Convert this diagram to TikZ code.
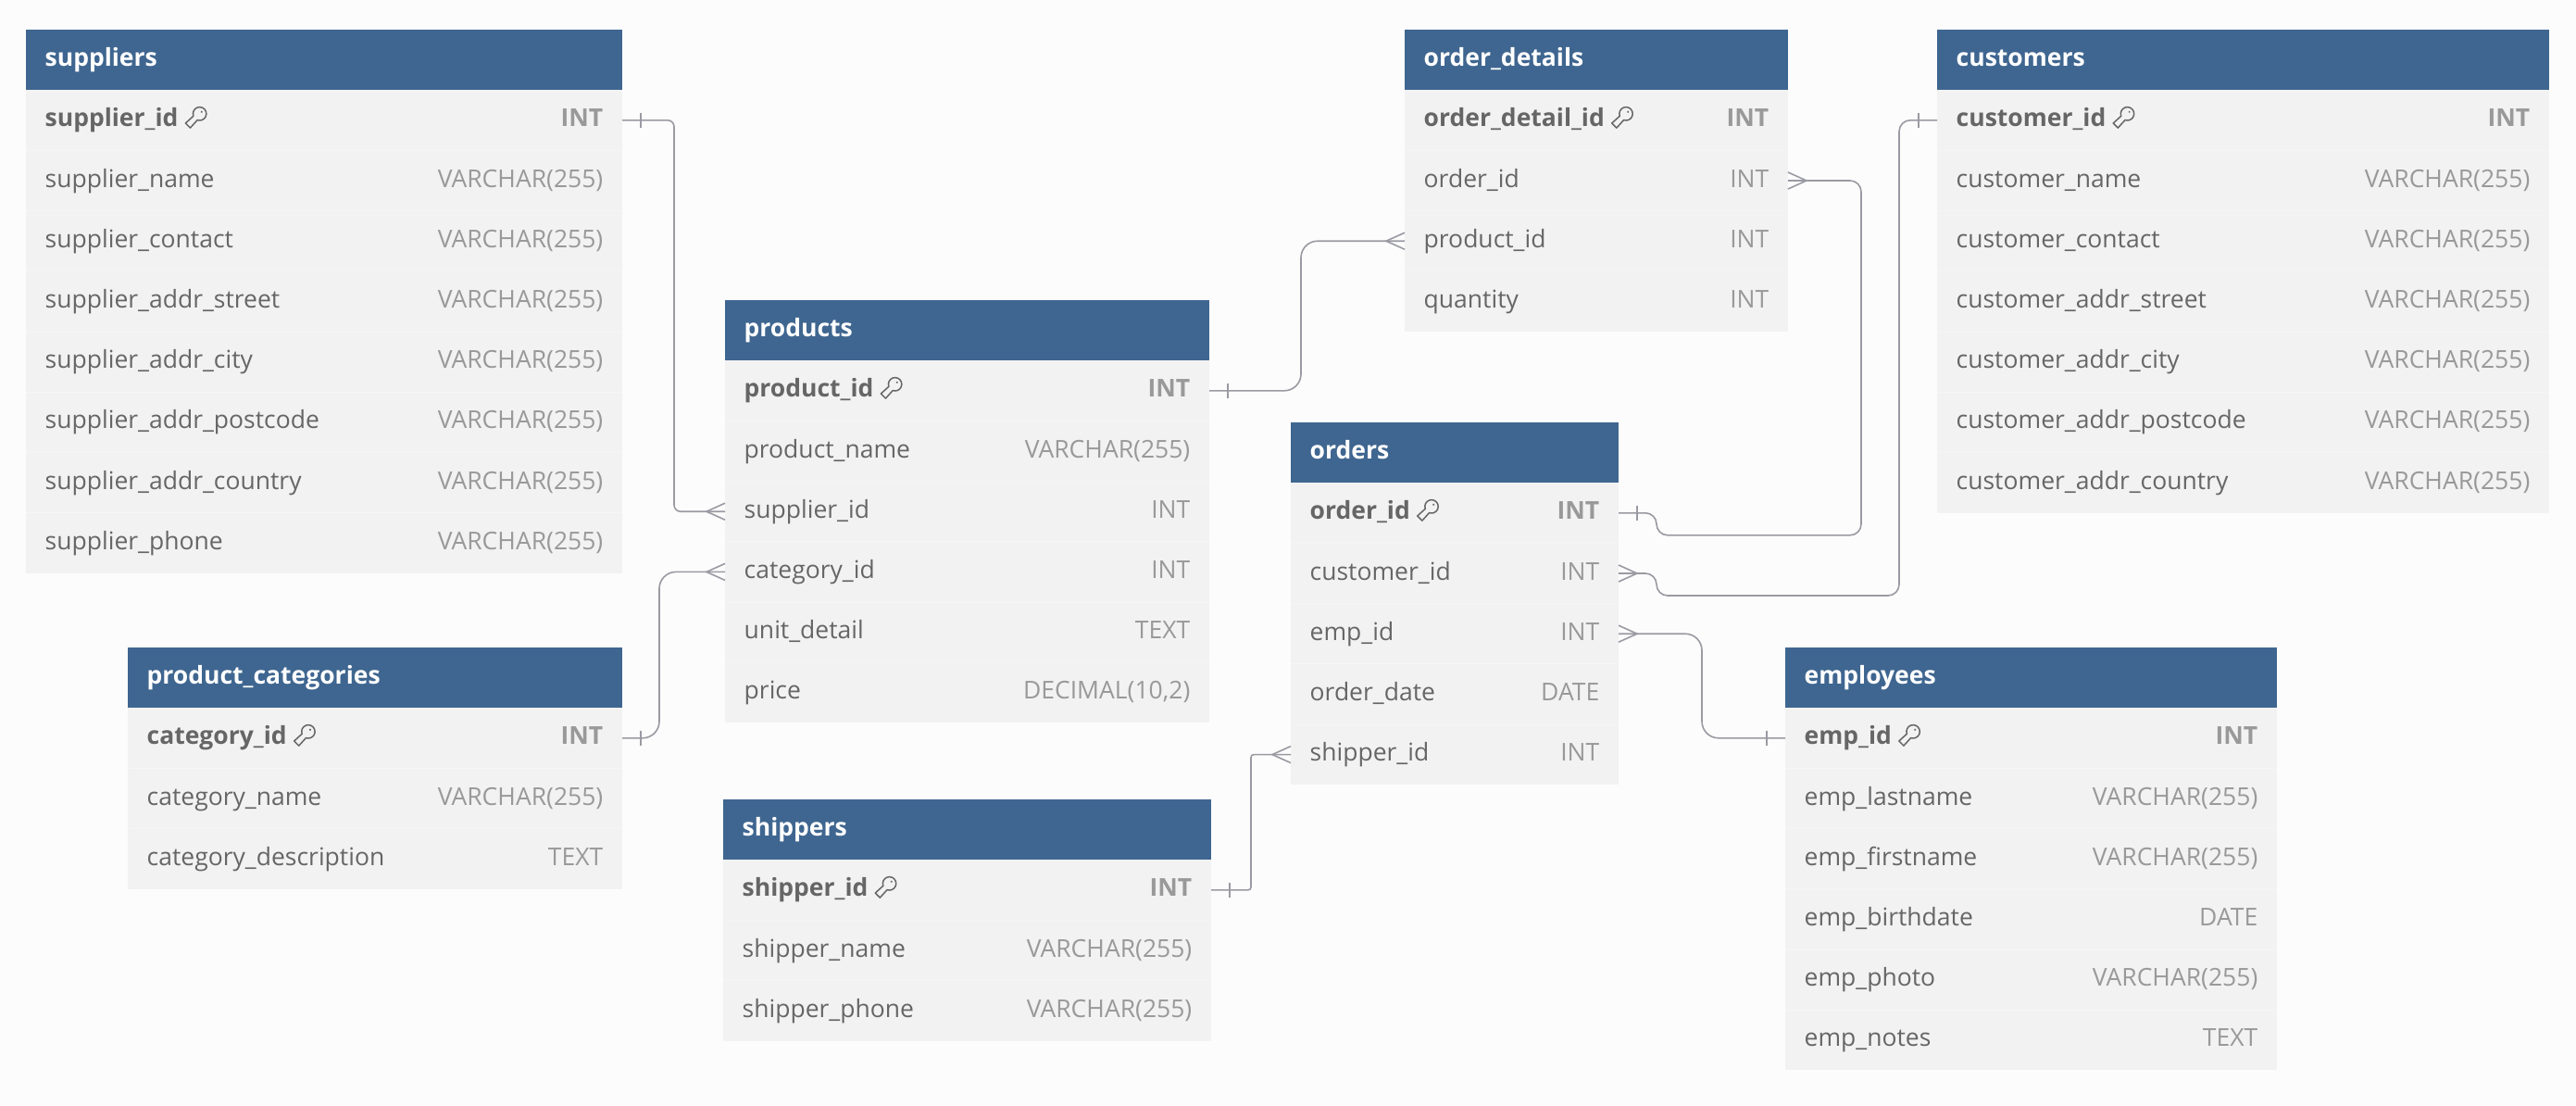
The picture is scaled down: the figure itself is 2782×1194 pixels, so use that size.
\documentclass[tikz,border=0pt]{standalone}
\usepackage{fontspec}
\setmainfont{Open Sans}
\catcode`\_=12
\definecolor{bgc}{HTML}{FCFCFC}
\definecolor{hdr}{HTML}{3F6690}
\definecolor{rowc}{HTML}{F2F2F2}
\definecolor{sepc}{HTML}{F5F5F5}
\definecolor{namec}{HTML}{666666}
\definecolor{typec}{HTML}{999999}
\definecolor{linec}{HTML}{9A9AA3}
\tikzset{
  hdrbox/.style={fill=hdr,draw=none,inner sep=0pt,outer sep=0pt,minimum height=65.2pt,anchor=north west},
  rowbox/.style={fill=rowc,draw=none,inner sep=0pt,outer sep=0pt,minimum height=65.2pt,anchor=north west},
  titletext/.style={inner sep=0pt,anchor=base west,text=white,font=\fontsize{26.5}{30}\selectfont\bfseries},
  nametext/.style={inner sep=0pt,anchor=base west,text=namec,font=\fontsize{26.5}{30}\selectfont},
  typetext/.style={inner sep=0pt,anchor=base east,text=typec,font=\fontsize{26.5}{30}\selectfont},
  conn/.style={draw=linec,line width=1.6pt,rounded corners=#1},
  conn/.default=14pt,
  endmark/.style={draw=linec,line width=1.6pt},
  keyicon/.style={draw=namec,line width=1.5pt,line join=round}
}
% table: id, x, y, width, title, rows
\newcommand{\dbtable}[6]{%
  \node[hdrbox,minimum width=#4pt] (#1) at (#2,#3) {};
  \node[titletext] (#1-title) at ([xshift=20.5pt,yshift=-6.5pt]#1.west) {#5};
  \foreach \n/\t [count=\i] in {#6} {
    \node[rowbox,minimum width=#4pt] (#1-\i) at (#2,{#3+65.2*\i}) {};
    \ifnum\i=1
      \node[nametext,font=\fontsize{26.5}{30}\selectfont\bfseries] (#1-\i-n) at ([xshift=20.5pt,yshift=-7pt]#1-\i.west) {\n};
      \node[typetext,font=\fontsize{26.5}{30}\selectfont\bfseries] (#1-\i-t) at ([xshift=-20.5pt,yshift=-7pt]#1-\i.east) {\t};
      \begin{scope}[shift={([xshift=23pt,yshift=7pt]#1-\i-n.east |- #1-\i.west)},rotate=45,x=1pt,y=1pt]
        \draw[keyicon] (155:7.2) arc[start angle=155,end angle=-155,radius=7.2] -- (-18,-3.6) -- (-18,3.6) -- cycle;
        \fill[namec] (3,0) circle (1.2pt);
      \end{scope}
    \else
      \draw[sepc,line width=1pt] (#1-\i.north west) -- (#1-\i.north east);
      \node[nametext] (#1-\i-n) at ([xshift=20.5pt,yshift=-7pt]#1-\i.west) {\n};
      \node[typetext] (#1-\i-t) at ([xshift=-20.5pt,yshift=-7pt]#1-\i.east) {\t};
    \fi
  }
}
% #1 node anchor point, #2 +1 to the right of the table, -1 to the left
\newcommand{\oneend}[2]{%
  \draw[endmark] ([xshift=#2*20pt,yshift=8pt]#1) -- ([xshift=#2*20pt,yshift=-8pt]#1);
}
\newcommand{\manyend}[2]{%
  \draw[endmark] ([yshift=9pt]#1) -- ([xshift=#2*20pt]#1) -- ([yshift=-9pt]#1);
}
\begin{document}
\begin{tikzpicture}[x=1pt,y=-1pt]
\useasboundingbox[fill=bgc] (0,0) rectangle (2782,1194);

\dbtable{sup}{28}{32}{644}{suppliers}{supplier_id/INT,supplier_name/VARCHAR(255),supplier_contact/VARCHAR(255),supplier_addr_street/VARCHAR(255),supplier_addr_city/VARCHAR(255),supplier_addr_postcode/VARCHAR(255),supplier_addr_country/VARCHAR(255),supplier_phone/VARCHAR(255)}
\dbtable{cat}{138}{699}{534}{product_categories}{category_id/INT,category_name/VARCHAR(255),category_description/TEXT}
\dbtable{prod}{783}{324}{523}{products}{product_id/INT,product_name/VARCHAR(255),supplier_id/INT,category_id/INT,unit_detail/TEXT,price/{DECIMAL(10,2)}}
\dbtable{ship}{781}{863}{527}{shippers}{shipper_id/INT,shipper_name/VARCHAR(255),shipper_phone/VARCHAR(255)}
\dbtable{ord}{1394}{456}{354}{orders}{order_id/INT,customer_id/INT,emp_id/INT,order_date/DATE,shipper_id/INT}
\dbtable{det}{1517}{32}{414}{order_details}{order_detail_id/INT,order_id/INT,product_id/INT,quantity/INT}
\dbtable{cus}{2092}{32}{661}{customers}{customer_id/INT,customer_name/VARCHAR(255),customer_contact/VARCHAR(255),customer_addr_street/VARCHAR(255),customer_addr_city/VARCHAR(255),customer_addr_postcode/VARCHAR(255),customer_addr_country/VARCHAR(255)}
\dbtable{emp}{1928}{699}{531}{employees}{emp_id/INT,emp_lastname/VARCHAR(255),emp_firstname/VARCHAR(255),emp_birthdate/DATE,emp_photo/VARCHAR(255),emp_notes/TEXT}

% connectors
\draw[conn=7pt] (sup-1.east) -- ([xshift=56pt]sup-1.east) |- (prod-3.west);
\oneend{sup-1.east}{1}\manyend{prod-3.west}{-1}

\draw[conn=18pt] (cat-1.east) -- ([xshift=40pt]cat-1.east) |- (prod-4.west);
\oneend{cat-1.east}{1}\manyend{prod-4.west}{-1}

\draw[conn=18pt] (prod-1.east) -- ([xshift=99pt]prod-1.east) |- (det-3.west);
\oneend{prod-1.east}{1}\manyend{det-3.west}{-1}

\draw[conn=12pt] (ord-1.east) -- ([xshift=41pt]ord-1.east) -- ([xshift=41pt,yshift=-24pt]ord-1.east) -| ([xshift=79pt]det-2.east) -- (det-2.east);
\oneend{ord-1.east}{1}\manyend{det-2.east}{1}

\draw[conn=12pt] (ord-2.east) -- ([xshift=41pt]ord-2.east) -- ([xshift=41pt,yshift=-24pt]ord-2.east) -- ([xshift=303pt,yshift=-24pt]ord-2.east) |- (cus-1.west);
\oneend{cus-1.west}{-1}\manyend{ord-2.east}{1}

\draw[conn=18pt] (ord-3.east) -- ([xshift=90pt]ord-3.east) |- (emp-1.west);
\oneend{emp-1.west}{-1}\manyend{ord-3.east}{1}

\draw[conn=3pt] (ship-1.east) -- ([xshift=43pt]ship-1.east) |- (ord-5.west);
\oneend{ship-1.east}{1}\manyend{ord-5.west}{-1}
\end{tikzpicture}
\end{document}
